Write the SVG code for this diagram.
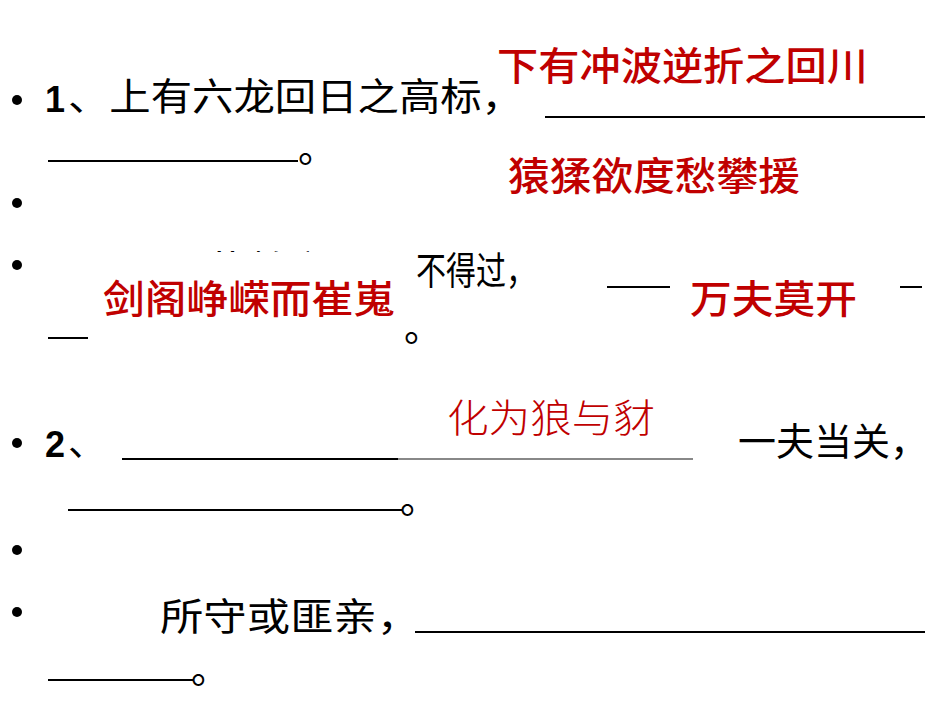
<svg xmlns="http://www.w3.org/2000/svg" width="950" height="713" viewBox="0 0 950 713">
<style>
.k{font-family:"Noto Sans CJK SC","Liberation Sans",sans-serif;font-size:38px;fill:#000;font-weight:400}
.n{font-family:"Liberation Sans",sans-serif;font-size:36px;font-weight:bold;fill:#000}
.r{font-family:"Noto Sans CJK SC",sans-serif;font-size:39px;fill:#c00000;font-weight:500}
.t{font-family:"Noto Sans CJK SC",sans-serif;font-size:39px;fill:#c00000;font-weight:300}
.u{stroke:#000;stroke-width:2}
</style>
<defs><clipPath id="c"><rect x="190" y="238" width="200" height="14"/></clipPath></defs>
<rect width="950" height="713" fill="#fff"/>
<g id="line1">
<circle cx="17" cy="100" r="5"/>
<text class="n" x="45" y="112">1</text>
<text class="k" x="68" y="110" textLength="455" lengthAdjust="spacingAndGlyphs">、上有六龙回日之高标，</text>
<line class="u" x1="545" y1="117" x2="925" y2="117"/>
<line class="u" x1="48" y1="161" x2="298" y2="161"/>
<text class="k" x="298" y="162">。</text>
<text class="r" x="497" y="80" textLength="371" lengthAdjust="spacingAndGlyphs">下有冲波逆折之回川</text>
</g>
<g id="line2">
<circle cx="17" cy="203" r="5"/>
<text class="r" x="508" y="190" textLength="292" lengthAdjust="spacingAndGlyphs">猿猱欲度愁攀援</text>
</g>
<g id="line3">
<circle cx="17" cy="265" r="5"/>
<text class="k" x="205" y="283" textLength="208" lengthAdjust="spacingAndGlyphs" clip-path="url(#c)">黄鹤之飞尚</text>
<text class="k" x="416" y="284" textLength="120" lengthAdjust="spacingAndGlyphs">不得过，</text>
<text class="r" x="103" y="313" textLength="292" lengthAdjust="spacingAndGlyphs">剑阁峥嵘而崔嵬</text>
<line class="u" x1="607" y1="287" x2="670" y2="287"/>
<text class="r" x="690" y="313" textLength="167" lengthAdjust="spacingAndGlyphs">万夫莫开</text>
<line class="u" x1="900" y1="287" x2="922" y2="287"/>
<line class="u" x1="48" y1="338" x2="88" y2="338"/>
<text class="k" x="404" y="341">。</text>
</g>
<g id="line4">
<circle cx="17" cy="443" r="5"/>
<text class="n" x="45" y="457">2</text>
<text class="k" x="68" y="455">、</text>
<line class="u" x1="122" y1="459" x2="398" y2="459"/>
<line x1="398" y1="459" x2="693" y2="459" stroke="#888" stroke-width="2"/>
<text class="t" x="447" y="432" textLength="208" lengthAdjust="spacingAndGlyphs">化为狼与豺</text>
<text class="k" x="738" y="455" textLength="190" lengthAdjust="spacingAndGlyphs">一夫当关，</text>
<line class="u" x1="68" y1="510" x2="402" y2="510"/>
<text class="k" x="400" y="513">。</text>
</g>
<g id="line5">
<circle cx="17" cy="550" r="5"/>
</g>
<g id="line6">
<circle cx="17" cy="612" r="5"/>
<text class="k" x="160" y="630" textLength="260" lengthAdjust="spacingAndGlyphs">所守或匪亲，</text>
<line class="u" x1="415" y1="632" x2="925" y2="632"/>
<line class="u" x1="48" y1="680" x2="193" y2="680"/>
<text class="k" x="191" y="683">。</text>
</g>
</svg>
